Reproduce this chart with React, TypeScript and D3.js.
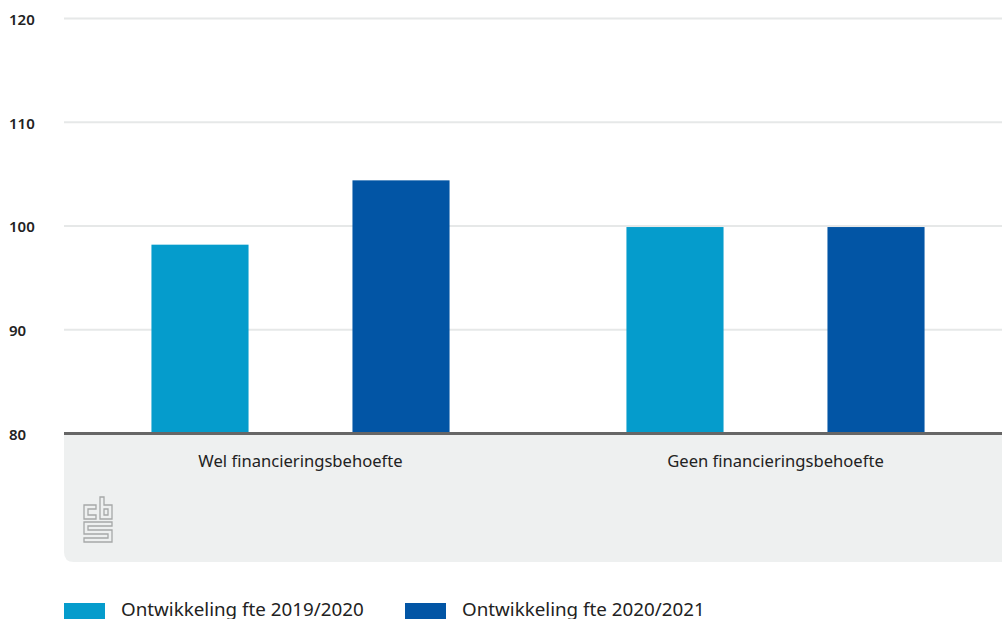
import React from "react";
import * as d3 from "d3";

const categories = ["Wel financieringsbehoefte", "Geen financieringsbehoefte"];
const seriesNames = ["Ontwikkeling fte 2019/2020", "Ontwikkeling fte 2020/2021"];
const series2019 = [98.2, 99.9];
const series2020 = [104.4, 99.9];
const yTicks = [80, 90, 100, 110, 120];
const colors = ["#059ccc", "#0255a5"];

const W = 1002;
const H = 619;
const left = 64;
const right = 1002;
const top = 18.5;
const bottom = 433.5;

export default function App() {
  const x0 = d3.scaleBand<string>().domain(categories).range([63, 1013]);
  const x1 = d3
    .scaleBand<number>()
    .domain([0, 1])
    .range([0, x0.bandwidth()])
    .paddingInner(0.517)
    .paddingOuter(0.44);
  const y = d3.scaleLinear().domain([80, 120]).range([bottom, top]);
  const data = [series2019, series2020];
  const font = "'Noto Sans', sans-serif";

  return (
    <svg width={W} height={H} style={{ position: "absolute", left: 0, top: 0, background: "#fff" }}>
      <path
        d={`M${left},${bottom} H${right} V562 H${left + 10} Q${left},562 ${left},552 Z`}
        fill="#eef0f0"
      />
      {yTicks.map((t) => (
        <g key={t}>
          {t !== 80 && (
            <line x1={left} x2={right} y1={y(t)} y2={y(t)} stroke="#e6e8e8" strokeWidth={2} />
          )}
          <text x={9} y={y(t) + 1} dy="0.35em" fontFamily={font} fontSize={15} fontWeight={600} fill="#222">
            {t}
          </text>
        </g>
      ))}
      {categories.map((c, i) => (
        <g key={c}>
          {data.map((s, j) => (
            <rect
              key={j}
              x={(x0(c) as number) + (x1(j) as number)}
              width={x1.bandwidth()}
              y={y(s[i])}
              height={y(80) - y(s[i])}
              fill={colors[j]}
            />
          ))}
          <text
            x={(x0(c) as number) + x0.bandwidth() / 2}
            y={461}
            dy="0.35em"
            textAnchor="middle"
            fontFamily={font}
            fontSize={16.6}
            fill="#222"
          >
            {c}
          </text>
        </g>
      ))}
      <line x1={left} x2={right} y1={bottom} y2={bottom} stroke="#666" strokeWidth={3} />
      <g fill="none" stroke="#a6a8a8" strokeWidth={1.3}>
        <path d="M84,505 H96 V509 H88 V515 H96 V519 H84 Z" />
        <path d="M100,497 H104 V505 H112 V519 H100 Z" />
        <path d="M104,509 H108 V515 H104 Z" />
        <path d="M84,522 H112 V526 H88 V530 H112 V542 H84 V538 H108 V534 H84 Z" />
      </g>
      {seriesNames.map((n, i) => {
        const lx = i === 0 ? 64 : 405;
        return (
          <g key={n}>
            <rect x={lx} y={603} width={41} height={17} fill={colors[i]} />
            <text x={lx + 57} y={616} fontFamily={font} fontSize={18.8} fill="#222">
              {n}
            </text>
          </g>
        );
      })}
    </svg>
  );
}
